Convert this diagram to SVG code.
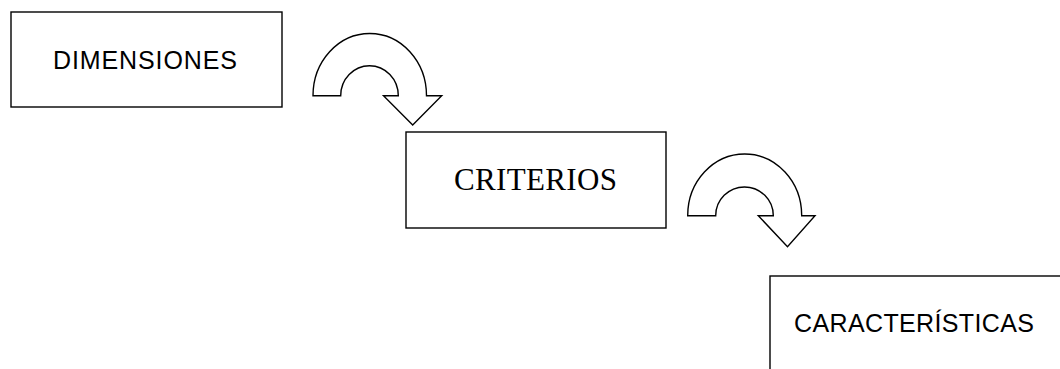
<svg xmlns="http://www.w3.org/2000/svg" width="1060" height="369" viewBox="0 0 1060 369">
  <style>
    .box { fill: #fff; stroke: #000; stroke-width: 1.4; }
    .arrow { fill: #fff; stroke: #000; stroke-width: 1.4; stroke-linejoin: miter; }
    .sans { font-family: "Liberation Sans", Arial, sans-serif; font-size: 25px; fill: #000; }
    .serif { font-family: "Liberation Serif", "Times New Roman", serif; font-size: 31px; fill: #000; }
  </style>
  <rect width="1060" height="369" fill="#fff"/>

  <g id="dimensiones">
    <rect class="box" x="11" y="12" width="271" height="95"/>
    <text class="sans" x="53" y="69" textLength="184" lengthAdjust="spacing">DIMENSIONES</text>
  </g>

  <g id="criterios">
    <rect class="box" x="406" y="132" width="260" height="96"/>
    <text class="serif" x="454" y="190" textLength="163" lengthAdjust="spacing">CRITERIOS</text>
  </g>

  <g id="caracteristicas">
    <rect class="box" x="770" y="276" width="320" height="120"/>
    <text class="sans" x="794" y="332" textLength="240" lengthAdjust="spacing">CARACTERÍSTICAS</text>
  </g>

  <g id="connectors">
    <!-- curved block arrow: DIMENSIONES to CRITERIOS -->
    <path class="arrow" d="M313,95.7 A56.5,62 0 0 1 426.5,95.7 L441.7,95.7 L412.7,125 L383.5,95.7 L398.3,95.7 A28.8,30 0 0 0 340.7,95.7 Z"/>
    <!-- curved block arrow: CRITERIOS to CARACTERÍSTICAS -->
    <path class="arrow" d="M687.7,215.7 A57,61.7 0 0 1 801.7,215.7 L815,215.7 L787.5,246.7 L758.3,215.7 L773.3,215.7 A28.8,28.8 0 0 0 715.7,215.7 Z"/>
  </g>
</svg>
